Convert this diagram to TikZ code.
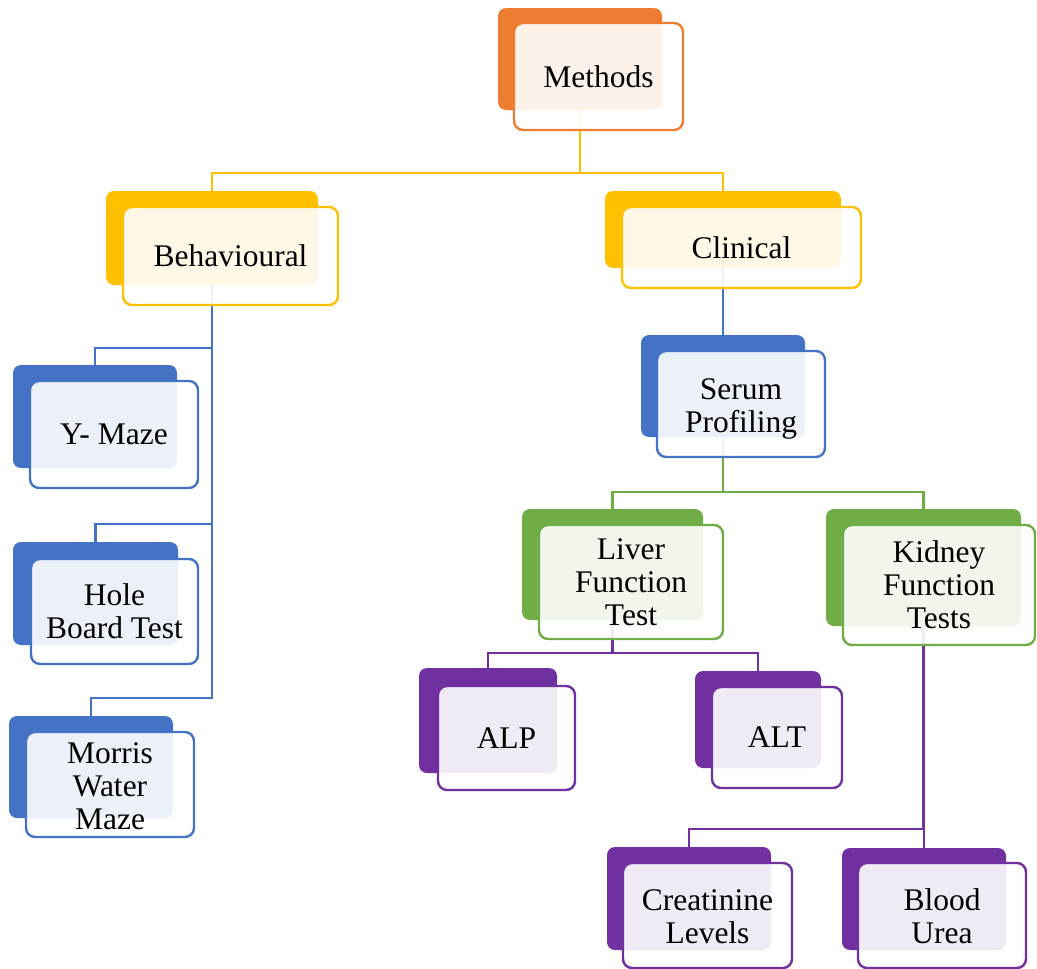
\documentclass[tikz,border=0pt]{standalone}
\usepackage{fontspec}
\setmainfont{Liberation Serif}
\definecolor{orangeC}{HTML}{ED7D31}
\definecolor{goldC}{HTML}{FFC000}
\definecolor{blueC}{HTML}{4472C4}
\definecolor{greenC}{HTML}{70AD47}
\definecolor{purpleC}{HTML}{7030A0}
\tikzset{
  backbox/.style={rectangle, rounded corners=8pt, fill=#1, draw=none, inner sep=0pt},
  frontbox/.style={rectangle, rounded corners=9pt, draw=#1, line width=2.4pt, fill=white, fill opacity=0.9, draw opacity=1, text opacity=1, inner sep=0pt, align=center, font=\fontsize{31.5}{33}\selectfont},
  conn/.style={draw=#1, line width=2.5pt}
}
\begin{document}
\begin{tikzpicture}[x=1pt,y=-1pt]
\useasboundingbox (0,0) rectangle (1037,969);
% back boxes
\node[backbox=orangeC, minimum width=164pt, minimum height=102pt] (mB) at (580,59) {};
\node[backbox=goldC, minimum width=212pt, minimum height=94pt] (bB) at (212,238) {};
\node[backbox=goldC, minimum width=236pt, minimum height=77pt] (cB) at (723,229.5) {};
\node[backbox=blueC, minimum width=164pt, minimum height=103pt] (yB) at (95,416.5) {};
\node[backbox=blueC, minimum width=165pt, minimum height=103pt] (hB) at (95.5,593.5) {};
\node[backbox=blueC, minimum width=164pt, minimum height=102pt] (wB) at (91,767) {};
\node[backbox=blueC, minimum width=164pt, minimum height=102pt] (sB) at (723,386) {};
\node[backbox=greenC, minimum width=181pt, minimum height=111pt] (lB) at (612.5,564.5) {};
\node[backbox=greenC, minimum width=195pt, minimum height=117pt] (kB) at (923.5,567.5) {};
\node[backbox=purpleC, minimum width=138pt, minimum height=105pt] (apB) at (488,720.5) {};
\node[backbox=purpleC, minimum width=126pt, minimum height=97pt] (atB) at (758,719.5) {};
\node[backbox=purpleC, minimum width=164pt, minimum height=103pt] (crB) at (689,898.5) {};
\node[backbox=purpleC, minimum width=164pt, minimum height=102pt] (buB) at (924,899) {};
% connectors
\draw[conn=goldC] (mB.south) -- ++(0,63) -| (bB.north);
\draw[conn=goldC] (mB.south) -- ++(0,63) -| (cB.north);
\draw[conn=blueC] (bB.south) -- ++(0,63) -| (yB.north);
\draw[conn=blueC] (bB.south) -- ++(0,239) -| (hB.north);
\draw[conn=blueC] (bB.south) -- ++(0,413) -| (wB.north);
\draw[conn=blueC] (cB.south) -- (sB.north);
\draw[conn=greenC] (sB.south) -- ++(0,55) -| (lB.north);
\draw[conn=greenC] (sB.south) -- ++(0,55) -| (kB.north);
\draw[conn=purpleC] (lB.south) -- ++(0,33) -| (apB.north);
\draw[conn=purpleC] (lB.south) -- ++(0,33) -| (atB.north);
\draw[conn=purpleC] (kB.south) -- ++(0,203) -| (crB.north);
\draw[conn=purpleC] (kB.south) -- ++(0,203) -| (buB.north);
% front boxes
\node[frontbox=orangeC, minimum width=169pt, minimum height=107pt] (m) at (598.5,76.5) {Methods};
\node[frontbox=goldC, minimum width=215pt, minimum height=98pt] (b) at (230.5,256) {Behavioural};
\node[frontbox=goldC, minimum width=239pt, minimum height=81pt] (c) at (741.5,247.5) {Clinical};
\node[frontbox=blueC, minimum width=168pt, minimum height=107pt] (y) at (114,434.5) {Y- Maze};
\node[frontbox=blueC, minimum width=167pt, minimum height=105pt] (h) at (114.5,611.5) {Hole\\Board Test};
\node[frontbox=blueC, minimum width=168pt, minimum height=105pt] (w) at (110,784.5) {\rule{0pt}{24pt}Morris\\Water\\Maze};
\node[frontbox=blueC, minimum width=168pt, minimum height=106pt] (s) at (741,404) {\rule{0pt}{30pt}Serum\\Profiling};
\node[frontbox=greenC, minimum width=184pt, minimum height=114pt] (l) at (631,582) {Liver\\Function\\Test};
\node[frontbox=greenC, minimum width=192pt, minimum height=120pt] (k) at (939,585) {Kidney\\Function\\Tests};
\node[frontbox=purpleC, minimum width=137pt, minimum height=104pt] (ap) at (506.5,738) {ALP};
\node[frontbox=purpleC, minimum width=130pt, minimum height=101pt] (at) at (777,737.5) {ALT};
\node[frontbox=purpleC, minimum width=169pt, minimum height=105pt] (cr) at (707.5,915.5) {\rule{0pt}{24pt}Creatinine\\Levels};
\node[frontbox=purpleC, minimum width=168pt, minimum height=105pt] (bu) at (942,915.5) {\rule{0pt}{24pt}Blood\\Urea};
\end{tikzpicture}
\end{document}
